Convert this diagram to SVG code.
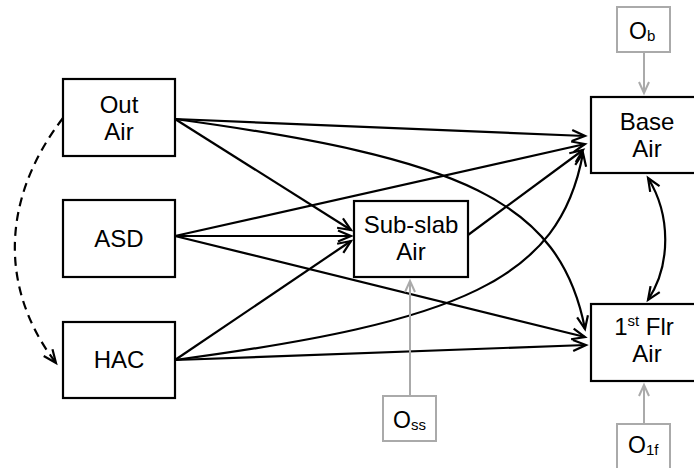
<svg xmlns="http://www.w3.org/2000/svg" width="694" height="468" viewBox="0 0 694 468">
<defs>
<style>
.box{fill:#fff;stroke:#000;stroke-width:2.2}
.obox{fill:#fff;stroke:#aaa;stroke-width:2}
.t{font-family:"Liberation Sans",Arial,sans-serif;font-size:24px;fill:#000;text-anchor:middle}
.ot{font-family:"Liberation Sans",Arial,sans-serif;font-size:23px;fill:#000}
.e{fill:none;stroke:#000;stroke-width:2.2;marker-end:url(#ah)}
.g{fill:none;stroke:#aaa;stroke-width:2;marker-end:url(#ahg)}
</style>
<marker id="ah" markerUnits="userSpaceOnUse" markerWidth="20" markerHeight="20" viewBox="-16 -10 20 20" refX="0" refY="0" orient="auto-start-reverse">
<path d="M-13,-5.5 L0,0 L-13,5.5" fill="none" stroke="#000" stroke-width="2.2"/>
</marker>
<marker id="ahg" markerUnits="userSpaceOnUse" markerWidth="20" markerHeight="20" viewBox="-16 -10 20 20" refX="0" refY="0" orient="auto">
<path d="M-11,-5 L0,0 L-11,5" fill="none" stroke="#aaa" stroke-width="2"/>
</marker>
</defs>
<rect width="694" height="468" fill="#fff"/>
<g id="connectors">
<path class="e" d="M175,119 L585,136"/>
<path class="e" d="M175,119 L351,230"/>
<path class="e" d="M175,119 C460,158 560,200 585,329"/>
<path class="e" d="M175,236 L351,236"/>
<path class="e" d="M175,236 L585,144"/>
<path class="e" d="M175,236 L585,337"/>
<path class="e" d="M175,360 L351,241"/>
<path class="e" d="M175,360 L586,345"/>
<path class="e" d="M175,360 C460,322 560,280 583,153"/>
<path class="e" d="M468,235 L583,150"/>
<path class="e" d="M648,178 C671,215 671,265 648,300" marker-start="url(#ah)"/>
<path class="e" d="M63,118 C0,200 0,290 56,363" stroke-dasharray="9,6"/>
<path class="g" d="M644,52 L644,93"/>
<path class="g" d="M410,396 L410,281"/>
<path class="g" d="M644,424 L644,385"/>
</g>
<g id="out-air"><rect class="box" x="63" y="79" width="112" height="77"/><text class="t" x="119" y="113">Out</text><text class="t" x="119" y="140">Air</text></g>
<g id="asd"><rect class="box" x="63" y="200" width="112" height="77"/><text class="t" x="119" y="247">ASD</text></g>
<g id="hac"><rect class="box" x="63" y="322" width="112" height="76"/><text class="t" x="119" y="368">HAC</text></g>
<g id="sub-slab"><rect class="box" x="354" y="201" width="114" height="76"/><text class="t" x="411" y="233">Sub-slab</text><text class="t" x="411" y="260">Air</text></g>
<g id="base-air"><rect class="box" x="591" y="97" width="112" height="76"/><text class="t" x="647" y="130">Base</text><text class="t" x="647" y="157">Air</text></g>
<g id="first-flr"><rect class="box" x="591" y="304" width="112" height="77"/><text class="t" x="644" y="335">1<tspan font-size="15" dy="-9">st</tspan><tspan dy="9"> Flr</tspan></text><text class="t" x="647" y="362">Air</text></g>
<g id="o-b"><rect class="obox" x="617" y="7" width="53" height="45"/><text class="ot" x="629" y="39">O<tspan font-size="15" dy="2">b</tspan></text></g>
<g id="o-ss"><rect class="obox" x="383" y="396" width="53" height="45"/><text class="ot" x="393" y="428">O<tspan font-size="15" dy="2">ss</tspan></text></g>
<g id="o-1f"><rect class="obox" x="617" y="424" width="53" height="45"/><text class="ot" x="628" y="453">O<tspan font-size="15" dy="2">1f</tspan></text></g>
</svg>
